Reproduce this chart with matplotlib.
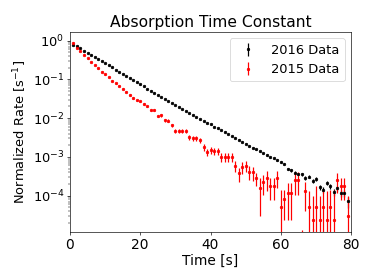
import matplotlib
matplotlib.use("Agg")
import matplotlib.pyplot as plt
import numpy as np

# Time bins [s]
t_2016 = list(range(1, 80))
t_2015 = list(range(1, 80))

# 2016 data: normalized rate
rate_2016 = [0.794, 0.708, 0.631, 0.550, 0.490, 0.437, 0.380, 0.331, 0.295, 0.263,
             0.229, 0.204, 0.178, 0.158, 0.138, 0.123, 0.107, 0.0955, 0.0832, 0.0741,
             0.0661, 0.0575, 0.0513, 0.0457, 0.0398, 0.0355, 0.0316, 0.0275, 0.0245, 0.0219,
             0.0191, 0.0170, 0.0151, 0.0135, 0.0120, 0.0107, 0.00955, 0.00851, 0.00759, 0.00692,
             0.00603, 0.00550, 0.00490, 0.00447, 0.00389, 0.00347, 0.00309, 0.00275, 0.00245, 0.00219,
             0.00195, 0.00174, 0.00155, 0.00138, 0.00123, 0.00112, 9.77e-4, 9.12e-4, 8.32e-4, 7.41e-4,
             6.61e-4, 4.90e-4, 4.47e-4, 3.89e-4, 3.63e-4, 3.55e-4, 2.88e-4, 3.09e-4, 2.34e-4, 2.69e-4,
             1.66e-4, 1.41e-4, 2.09e-4, 1.74e-4, 1.23e-4, 1.58e-4, 1.17e-4, 1.17e-4, 7.08e-5]
err_2016 = [0.006, 0.005, 0.005, 0.004, 0.004, 0.003, 0.003, 0.003, 0.002, 0.002,
            0.002, 0.002, 0.0015, 0.0013, 0.0012, 0.0011, 0.0010, 0.0009, 0.0008, 0.0007,
            0.0006, 0.0006, 0.0005, 0.0005, 0.0004, 0.0004, 0.0004, 0.0003, 0.0003, 0.0003,
            2.5e-4, 2.3e-4, 2.1e-4, 2.0e-4, 1.8e-4, 1.7e-4, 1.6e-4, 1.5e-4, 1.4e-4, 1.3e-4,
            1.2e-4, 1.1e-4, 1.0e-4, 1.0e-4, 9e-5, 8.5e-5, 8e-5, 7.5e-5, 7e-5, 6.5e-5,
            6e-5, 5.7e-5, 5.4e-5, 5.1e-5, 4.8e-5, 4.6e-5, 4.4e-5, 4.2e-5, 4e-5, 3.8e-5,
            3.6e-5, 3.4e-5, 3.3e-5, 3.2e-5, 3.1e-5, 3e-5, 2.9e-5, 2.8e-5, 2.7e-5, 2.7e-5,
            2.6e-5, 2.6e-5, 2.5e-5, 2.5e-5, 2.4e-5, 2.4e-5, 2.3e-5, 2.3e-5, 2.3e-5]

# 2015 data: normalized rate
rate_2015 = [0.891, 0.661, 0.537, 0.437, 0.347, 0.282, 0.234, 0.191, 0.158, 0.135,
             0.115, 0.0933, 0.0794, 0.0676, 0.0575, 0.0479, 0.0398, 0.0331, 0.0288, 0.0269,
             0.0234, 0.0200, 0.0158, 0.0158, 0.0115, 0.0117, 0.00871, 0.00851, 0.00646, 0.00468,
             0.00457, 0.00457, 0.00457, 0.00324, 0.00302, 0.00302, 0.00275, 0.00178, 0.00132, 0.00148,
             0.00138, 0.00138, 0.00100, 0.00100, 0.00100, 0.00100, 5.89e-4, 3.80e-4, 5.37e-4, 5.89e-4,
             4.17e-4, 3.98e-4, 2.77e-4, 1.6e-4, 2.26e-4, 2.8e-4, 1.8e-4, 1.8e-4, 2.9e-4, 5.2e-5,
             8.3e-5, 1.17e-4, 1.17e-4, 2.5e-4, 2.5e-4, -1.0e-5, 1.3e-4, 5.2e-5, 2.4e-5, 5.2e-5,
             2.4e-5, 5.2e-5, 2.4e-5, 5.2e-5, 2.4e-5, 2.49e-4, 1.8e-4, 1.8e-4, 2.9e-5]
err_2015 = [0.00725, 0.00624, 0.00563, 0.00508, 0.00452, 0.00408, 0.00372, 0.00336, 0.00305, 0.00282,
            0.00260, 0.00235, 0.00216, 0.00200, 0.00184, 0.00168, 0.00153, 0.00140, 0.00130, 0.00126,
            0.00118, 0.00109, 9.66e-4, 9.66e-4, 8.23e-4, 8.31e-4, 7.17e-4, 7.09e-4, 6.17e-4, 5.25e-4,
            5.19e-4, 5.19e-4, 5.19e-4, 4.37e-4, 4.22e-4, 4.22e-4, 4.03e-4, 3.24e-4, 2.79e-4, 2.95e-4,
            2.85e-4, 2.85e-4, 2.43e-4, 2.43e-4, 2.43e-4, 2.43e-4, 1.86e-4, 1.50e-4, 1.78e-4, 1.86e-4,
            1.57e-4, 1.53e-4, 1.03e-4, 1.3e-4, 1.21e-4, 1.5e-4, 1.02e-4, 1.02e-4, 1.3e-4, 8.9e-5,
            5.9e-5, 9.3e-5, 9.3e-5, 1.47e-4, 1.47e-4, 2.3e-5, 8.9e-5, 8.3e-5, 7.1e-5, 1.22e-4,
            7.1e-5, 8.9e-5, 1.05e-4, 8.9e-5, 1.17e-4, 1.32e-4, 1.02e-4, 1.02e-4, 6.6e-5]

labels = ["2016 Data", "2015 Data"]
title = "Absorption Time Constant"
xlabel = "Time [s]"
ylabel = r"Normalized Rate [s$^{-1}$]"

DPI = 58.4375
plt.rcParams['font.size'] = 16
fig = plt.figure(figsize=(374 / DPI, 280 / DPI), dpi=DPI)
ax = fig.add_axes([0.187, 0.171, 0.752, 0.715])

ax.errorbar(t_2016, rate_2016, yerr=err_2016, fmt='.', color='k', ecolor='k',
            label=labels[0])
ax.errorbar(t_2015, rate_2015, yerr=err_2015, fmt='.', color='r', ecolor='r',
            label=labels[1])

ax.set_yscale('log')
ax.set_xlim(0, 80)
ax.set_ylim(1.14e-5, 1.68)
ax.set_xticks([0, 20, 40, 60, 80])
ax.tick_params(axis='x', labelsize=17)
ax.set_title(title, fontsize=19.2)
ax.set_xlabel(xlabel, fontsize=17, labelpad=2)
ax.set_ylabel(ylabel)
ax.legend(loc='upper right')

fig.savefig("out.png", dpi=DPI)
